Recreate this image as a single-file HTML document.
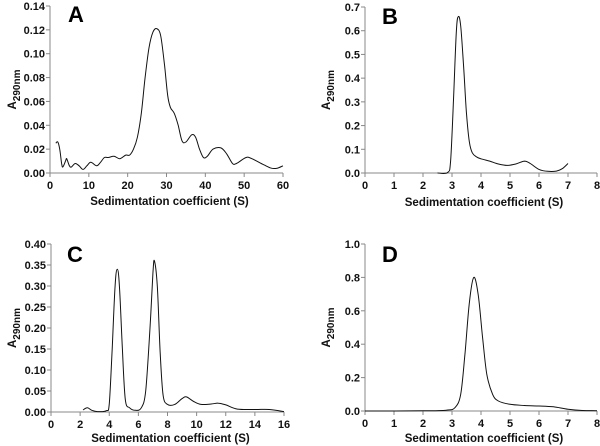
<!DOCTYPE html>
<html><head><meta charset="utf-8"><style>
html,body{margin:0;padding:0;background:#fff;}
svg{display:block;font-family:"Liberation Sans",Arial,sans-serif;}
.tick{font-size:11px;font-weight:bold;fill:#111;}
.ttl{font-size:11.5px;font-weight:bold;fill:#111;}
.let{font-size:22px;font-weight:bold;fill:#000;}
</style></head><body>
<svg id="c" width="600" height="446" viewBox="0 0 600 446"></svg>
<script>
const aX=[1.5,2,2.5,3,3.3,4,4.3,5,5.5,6.5,7.5,8.5,9.5,10.5,12,13,14,15,16.5,18,19.5,20.5,21.5,22.5,23.5,24.5,25.5,26.5,27.5,28.5,29.5,30.3,31,32,33,34,35,36.5,37.5,38.5,39.5,40.5,42,44,45.5,47,48,50.5,52,55,57,58.5,60];
const aY=[0.025,0.026,0.02,0.008,0.005,0.01,0.012,0.006,0.005,0.008,0.006,0.003,0.006,0.009,0.006,0.009,0.013,0.013,0.014,0.012,0.015,0.015,0.02,0.03,0.05,0.08,0.105,0.118,0.121,0.115,0.09,0.065,0.055,0.05,0.04,0.027,0.026,0.032,0.03,0.02,0.013,0.014,0.02,0.021,0.016,0.008,0.008,0.013,0.012,0.007,0.004,0.004,0.006];
const bX=[2.5,2.85,2.95,3.05,3.15,3.22,3.3,3.4,3.5,3.6,3.7,3.85,4,4.3,4.6,4.9,5.2,5.5,5.7,6,6.3,6.6,6.8,7];
const bY=[0,0.002,0.05,0.3,0.6,0.66,0.62,0.45,0.25,0.13,0.085,0.068,0.06,0.05,0.038,0.032,0.038,0.05,0.04,0.015,0.007,0.008,0.018,0.04];
const cX=[2.2,2.5,2.8,3.2,3.8,4.0,4.2,4.4,4.55,4.7,4.9,5.1,5.4,5.8,6.2,6.5,6.8,7.0,7.1,7.3,7.5,7.7,8,8.5,9,9.3,9.8,10.3,11,11.5,12,12.8,14,15,16];
const cY=[0.005,0.01,0.004,0.001,0.003,0.02,0.15,0.3,0.34,0.3,0.15,0.03,0.01,0.004,0.01,0.05,0.2,0.33,0.36,0.3,0.14,0.04,0.018,0.018,0.032,0.036,0.025,0.018,0.019,0.021,0.017,0.007,0.006,0.006,0.001];
const dX=[0,2,2.8,3.1,3.3,3.45,3.6,3.75,3.9,4.05,4.2,4.4,4.6,5,5.5,6,6.5,7,7.5,8];
const dY=[0,0.001,0.005,0.02,0.1,0.35,0.65,0.8,0.7,0.45,0.22,0.1,0.06,0.04,0.033,0.03,0.025,0.01,0.003,0.002];
const aXT=[0,10,20,30,40,50,60], aYT=["0.00","0.02","0.04","0.06","0.08","0.10","0.12","0.14"];
const bXT=[0,1,2,3,4,5,6,7,8], bYT=["0.0","0.1","0.2","0.3","0.4","0.5","0.6","0.7"];
const cXT=[0,2,4,6,8,10,12,14,16], cYT=["0.00","0.05","0.10","0.15","0.20","0.25","0.30","0.35","0.40"];
const dXT=[0,1,2,3,4,5,6,7,8], dYT=["0.0","0.2","0.4","0.6","0.8","1.0"];

const svg=document.getElementById('c');const NS='http://www.w3.org/2000/svg';
function mk(t,a,p){const e=document.createElementNS(NS,t);for(const k in a)e.setAttribute(k,a[k]);(p||svg).appendChild(e);return e;}
function smooth(P){let d=`M${P[0][0].toFixed(1)},${P[0][1].toFixed(1)}`;
  for(let i=0;i<P.length-1;i++){const p0=P[i-1]||P[i],p1=P[i],p2=P[i+1],p3=P[i+2]||p2;
    const c1=[p1[0]+(p2[0]-p0[0])/6,p1[1]+(p2[1]-p0[1])/6],c2=[p2[0]-(p3[0]-p1[0])/6,p2[1]-(p3[1]-p1[1])/6];
    d+=` C${c1[0].toFixed(1)},${c1[1].toFixed(1)} ${c2[0].toFixed(1)},${c2[1].toFixed(1)} ${p2[0].toFixed(1)},${p2[1].toFixed(1)}`;}
  return d;}
function panel(id,letter,L,R,x0,x1,B,T,y1,xs,ys,xt,yt,titleY,ylabX,letX,letY){
  const g=mk('g',{});
  
  
  const sx=v=>L+(v-x0)/(x1-x0)*(R-L), sy=v=>B-v/y1*(B-T);
  const ax=mk('path',{d:`M${L},${T} V${B} H${R}`,stroke:'#888',fill:'none','stroke-width':1},g);
  
  
  xt.forEach(v=>{const x=sx(v);mk('line',{x1:x,x2:x,y1:B,y2:B+4,stroke:'#888'},g);
    const t=mk('text',{x:x,y:B+16,'text-anchor':'middle',class:'tick'},g);t.textContent=v;
    
    });
  yt.forEach(s=>{const y=sy(parseFloat(s));mk('line',{x1:L-4,x2:L,y1:y,y2:y,stroke:'#888'},g);
    const t=mk('text',{x:L-5,y:y+4,'text-anchor':'end',class:'tick'},g);t.textContent=s;
    
    });
  const P=xs.map((v,i)=>[sx(v),sy(ys[i])]);
  const pl=mk('path',{d:smooth(P),fill:'none',stroke:'#111','stroke-width':1,'stroke-linejoin':'round'},g);
  
  
  const xtl=mk('text',{x:(L+R)/2+3,y:titleY,'text-anchor':'middle',class:'ttl'},g);
  xtl.textContent='Sedimentation coefficient (S)';
  
  
  const cy=(T+B)/2;
  const yl=mk('text',{x:ylabX,y:cy,transform:`rotate(-90 ${ylabX} ${cy})`,'text-anchor':'middle',class:'ttl'},g);
  yl.innerHTML='A<tspan dy="4" font-size="10">290nm</tspan>';
  
  
  const lt=mk('text',{x:letX,y:letY,class:'let'},g);lt.textContent=letter;
  
  
}
panel('a','A',50,283,0,60,173,6,0.14,aX,aY,aXT,aYT,205,16,68,22);
panel('b','B',365,597,0,8,173,7,0.7,bX,bY,bXT,bYT,206,330,382,24);
panel('c','C',51,284,0,16,412,244,0.40,cX,cY,cXT,cYT,442,16,67,262);
panel('d','D',365,597,0,8,411,244,1.0,dX,dY,dXT,dYT,442,330,382,262);
</script>
</body></html>
